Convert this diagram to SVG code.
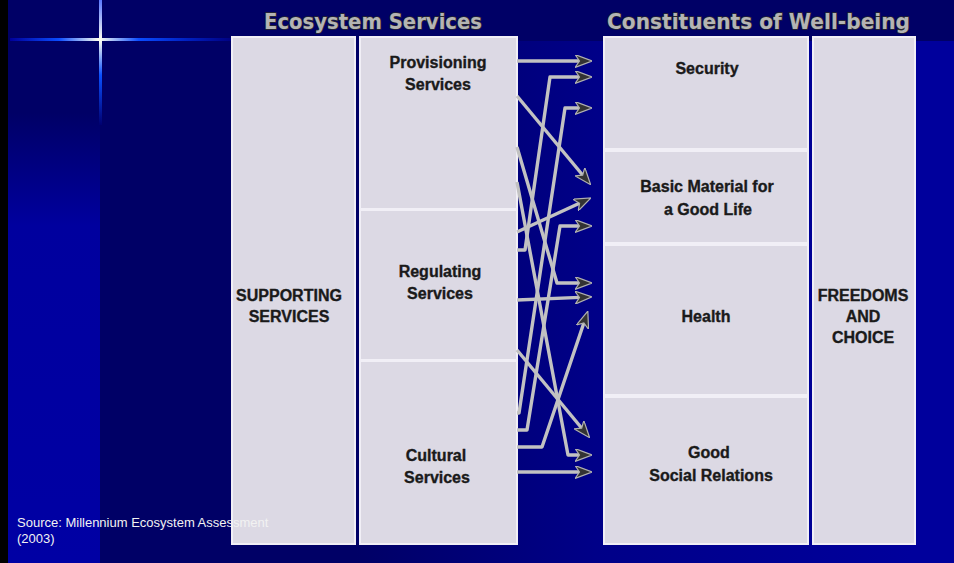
<svg xmlns="http://www.w3.org/2000/svg" width="954" height="563" viewBox="0 0 954 563">
<defs>
<style>
.box{fill:#dcd9e4;stroke:#f1eff6;stroke-width:2}
.lbl{font-family:"Liberation Sans",Arial,sans-serif;font-weight:bold;font-size:16px;fill:#1a1a1a;stroke:#1a1a1a;stroke-width:0.35;text-anchor:middle}
.title{font-family:"DejaVu Sans","Liberation Sans",sans-serif;font-weight:bold;font-size:21px;fill:#b4b4b4;stroke:#2a2a2a;stroke-width:1.4;paint-order:stroke}
.conn{fill:none;stroke:#c2c2c2;stroke-width:3.4;stroke-linejoin:round}
.arr{marker-end:url(#ah)}
.src{font-family:"Liberation Sans",Arial,sans-serif;font-size:13px;fill:#f2f2f2}
</style>
<marker id="ah" viewBox="0 0 17 13" refX="5" refY="6.5" markerWidth="17" markerHeight="13" markerUnits="userSpaceOnUse" orient="auto">
<path d="M0,0 L17,6.5 L0,13 L4.5,6.5 z" fill="#333333" stroke="#b0b0b0" stroke-width="1.2"/>
</marker>
<linearGradient id="bgH" x1="0" y1="0" x2="1" y2="0">
<stop offset="0" stop-color="#000066"/>
<stop offset="0.3" stop-color="#000066"/>
<stop offset="0.58" stop-color="#000088"/>
<stop offset="0.95" stop-color="#00009c"/>
</linearGradient>
<linearGradient id="bgV" x1="0" y1="0" x2="0" y2="1">
<stop offset="0" stop-color="#000066"/>
<stop offset="0.2" stop-color="#000066"/>
<stop offset="0.4" stop-color="#00009e"/>
<stop offset="1" stop-color="#0000a4"/>
</linearGradient>
<linearGradient id="crossH" x1="0" y1="0" x2="1" y2="0">
<stop offset="0" stop-color="#000099"/>
<stop offset="0.22" stop-color="#0a4cff"/>
<stop offset="0.4" stop-color="#fffff0"/>
<stop offset="0.58" stop-color="#0a4cff"/>
<stop offset="0.8" stop-color="#0020c0"/>
<stop offset="1" stop-color="#000080"/>
</linearGradient>
<linearGradient id="crossV" x1="0" y1="0" x2="0" y2="1">
<stop offset="0" stop-color="#5a78ff"/>
<stop offset="0.32" stop-color="#fffff0"/>
<stop offset="0.6" stop-color="#0a50ff"/>
<stop offset="1" stop-color="#000070"/>
</linearGradient>
</defs>

<g id="background">
<rect x="0" y="0" width="954" height="563" fill="#000099"/>
<rect x="100" y="0" width="854" height="563" fill="url(#bgH)"/>
<rect x="8" y="0" width="92" height="563" fill="url(#bgV)"/>
<rect x="8" y="0" width="946" height="41" fill="#000066"/>
<rect x="0" y="0" width="8" height="563" fill="#000000"/>
<rect x="10" y="38" width="222" height="3" fill="url(#crossH)"/>
<rect x="99" y="0" width="3" height="125" fill="url(#crossV)"/>
</g>

<g id="titles">
<text class="title" x="264" y="29" textLength="218" lengthAdjust="spacingAndGlyphs">Ecosystem Services</text>
<text class="title" x="607" y="29" textLength="303" lengthAdjust="spacingAndGlyphs">Constituents of Well-being</text>
</g>

<g id="supporting">
<rect class="box" x="232" y="37" width="123" height="507"/>
<text class="lbl" x="289" y="301">SUPPORTING</text>
<text class="lbl" x="289" y="322">SERVICES</text>
</g>
<g id="provisioning">
<rect class="box" x="360" y="37" width="157" height="172"/>
<text class="lbl" x="438" y="68">Provisioning</text>
<text class="lbl" x="438" y="90">Services</text>
</g>
<g id="regulating">
<rect class="box" x="360" y="210" width="157" height="150"/>
<text class="lbl" x="440" y="277">Regulating</text>
<text class="lbl" x="440" y="299">Services</text>
</g>
<g id="cultural">
<rect class="box" x="360" y="361" width="157" height="183"/>
<text class="lbl" x="436" y="461">Cultural</text>
<text class="lbl" x="437" y="483">Services</text>
</g>
<g id="security">
<rect class="box" x="604" y="37" width="204" height="112"/>
<text class="lbl" x="707" y="74">Security</text>
</g>
<g id="basic-material">
<rect class="box" x="604" y="151" width="204" height="92"/>
<text class="lbl" x="707" y="192">Basic Material for</text>
<text class="lbl" x="708" y="215">a Good Life</text>
</g>
<g id="health">
<rect class="box" x="604" y="245" width="204" height="150"/>
<text class="lbl" x="706" y="322">Health</text>
</g>
<g id="social-relations">
<rect class="box" x="604" y="397" width="204" height="147"/>
<text class="lbl" x="709" y="458">Good</text>
<text class="lbl" x="711" y="481">Social Relations</text>
</g>
<g id="freedoms">
<rect class="box" x="813" y="37" width="102" height="507"/>
<text class="lbl" x="863" y="301">FREEDOMS</text>
<text class="lbl" x="863" y="322">AND</text>
<text class="lbl" x="863" y="343">CHOICE</text>
</g>

<g id="connectors">
<path class="conn arr" d="M517,61 L580,61"/>
<path class="conn arr" d="M517,96 L583,175.5"/>
<path class="conn arr" d="M517,147 L557,283 L580,283"/>
<path class="conn arr" d="M517,182 L568,455 L580,455"/>
<path class="conn arr" d="M517,250 L525,250 L550,77 L580,77"/>
<path class="conn arr" d="M517,232 L580,203"/>
<path class="conn arr" d="M517,300 L580,297.4"/>
<path class="conn arr" d="M517,350 L582,428.5"/>
<path class="conn arr" d="M517,413 L519,413 L565,108 L580,108"/>
<path class="conn arr" d="M517,430 L527,430 L560,226 L580,226"/>
<path class="conn arr" d="M517,447 L542,447 L584,322.5"/>
<path class="conn arr" d="M517,472 L580,472"/>
</g>

<g id="source">
<text class="src" x="17" y="527">Source: Millennium Ecosystem Assessment</text>
<text class="src" x="17" y="543">(2003)</text>
</g>
</svg>
